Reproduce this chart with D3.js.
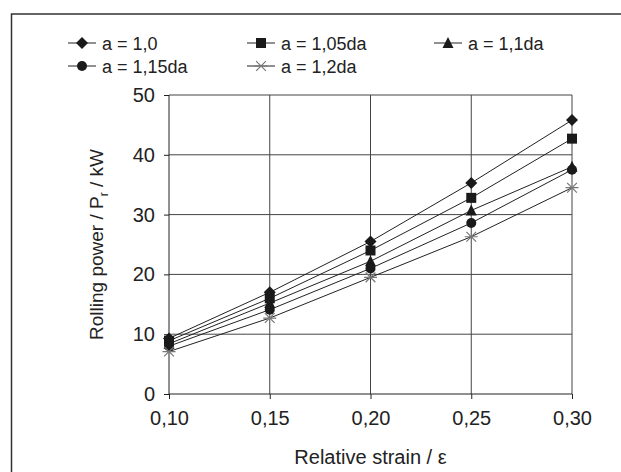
<!DOCTYPE html>
<html><head><meta charset="utf-8">
<script src="https://cdn.jsdelivr.net/npm/d3@7"></script>
<style>body{margin:0;background:#fff;} svg{display:block;font-family:"Liberation Sans",Arial,sans-serif;}</style>
</head><body>
<svg id="c" width="621" height="472"></svg>
<script>
const strain = [0.10, 0.15, 0.20, 0.25, 0.30];
const xTickLabels = ["0,10", "0,15", "0,20", "0,25", "0,30"];
const yTicks = [0, 10, 20, 30, 40, 50];
const seriesNames = ["a = 1,0", "a = 1,05da", "a = 1,1da", "a = 1,15da", "a = 1,2da"];
const a10   = [9.3, 17.0, 25.5, 35.3, 45.8];
const a105  = [8.9, 16.0, 24.0, 32.8, 42.7];
const a110  = [8.4, 15.2, 22.2, 30.7, 38.0];
const a115  = [8.0, 14.1, 21.0, 28.6, 37.5];
const a120  = [7.1, 12.7, 19.5, 26.3, 34.5];
const seriesValues = [a10, a105, a110, a115, a120];
const symbols = ["diamond", "square", "triangle", "circle", "star"];

const svg = d3.select("#c");
const x = d3.scaleLinear().domain([0.10, 0.30]).range([169, 572]);
const y = d3.scaleLinear().domain([0, 50]).range([394, 95]);

// outer frame
svg.append("path").attr("d", "M11.5,472 L11.5,14 L621,14").attr("fill", "none").attr("stroke", "#333").attr("stroke-width", 1.5);

// grid
svg.append("g").selectAll("line").data(yTicks.slice(1)).join("line")
  .attr("x1", x(0.10)).attr("x2", x(0.30)).attr("y1", d => y(d)).attr("y2", d => y(d))
  .attr("stroke", "#444").attr("stroke-width", 1);
svg.append("g").selectAll("line").data(strain.slice(1)).join("line")
  .attr("x1", d => x(d)).attr("x2", d => x(d)).attr("y1", y(0)).attr("y2", y(50))
  .attr("stroke", "#444").attr("stroke-width", 1);

// axes
const xAxis = d3.axisBottom(x).tickValues(strain).tickFormat((d, i) => xTickLabels[i]).tickSize(5).tickPadding(12);
const gx = svg.append("g").attr("transform", `translate(0,${y(0)})`).call(xAxis);
const yAxis = d3.axisLeft(y).tickValues(yTicks).tickSize(5).tickPadding(9);
const gy = svg.append("g").attr("transform", `translate(${x(0.10)},0)`).call(yAxis);
[gx, gy].forEach(g => {
  g.select(".domain").attr("stroke", "#222").attr("d", g === gx ? `M${x(0.10)},0H${x(0.30)}` : `M0,${y(0)}V${y(50)}`);
  g.selectAll(".tick line").attr("stroke", "#222");
  g.selectAll("text").attr("font-size", 20).attr("fill", "#222").attr("font-family", "Liberation Sans, Arial, sans-serif");
});

// symbol drawer
function drawSymbol(g, type, cx, cy) {
  if (type === "diamond") {
    g.append("path").attr("d", `M${cx},${cy-6}L${cx+6},${cy}L${cx},${cy+6}L${cx-6},${cy}Z`).attr("fill", "#1a1a1a");
  } else if (type === "square") {
    g.append("rect").attr("x", cx-5).attr("y", cy-5).attr("width", 10).attr("height", 10).attr("fill", "#1a1a1a");
  } else if (type === "triangle") {
    g.append("path").attr("d", `M${cx},${cy-6}L${cx+5.5},${cy+5}L${cx-5.5},${cy+5}Z`).attr("fill", "#1a1a1a");
  } else if (type === "circle") {
    g.append("circle").attr("cx", cx).attr("cy", cy).attr("r", 5).attr("fill", "#1a1a1a");
  } else {
    const r = 6.5;
    const d = `M${cx-r},${cy}H${cx+r}M${cx-r*0.75},${cy-r*0.75}L${cx+r*0.75},${cy+r*0.75}M${cx-r*0.75},${cy+r*0.75}L${cx+r*0.75},${cy-r*0.75}`;
    g.append("path").attr("d", d).attr("stroke", "#777").attr("stroke-width", 1.2).attr("fill", "none");
  }
}

const line = d3.line().x((d, i) => x(strain[i])).y(d => y(d));
seriesValues.forEach((vals, s) => {
  svg.append("path").attr("d", line(vals)).attr("fill", "none").attr("stroke", "#222").attr("stroke-width", 1);
});
seriesValues.forEach((vals, s) => {
  const g = svg.append("g");
  vals.forEach((v, i) => drawSymbol(g, symbols[s], x(strain[i]), y(v)));
});

// legend
const legPos = [[82, 43], [261, 43], [448, 43], [82, 66], [261, 66]];
seriesNames.forEach((name, s) => {
  const [mx, my] = legPos[s];
  const g = svg.append("g");
  g.append("line").attr("x1", mx-14).attr("x2", mx+14).attr("y1", my).attr("y2", my).attr("stroke", "#222");
  drawSymbol(g, symbols[s], mx, my);
  g.append("text").attr("x", mx+20).attr("y", my+6.5).attr("font-size", 18).attr("fill", "#222").text(name);
});

// axis titles
svg.append("text").attr("x", (x(0.10)+x(0.30))/2).attr("y", 464).attr("text-anchor", "middle")
  .attr("font-size", 20).attr("fill", "#222").text("Relative strain / ε");
const yl = svg.append("text").attr("transform", `translate(103,${y(25)}) rotate(-90)`).attr("text-anchor", "middle")
  .attr("font-size", 19).attr("fill", "#222");
yl.append("tspan").text("Rolling power / P");
yl.append("tspan").attr("font-size", 12).attr("dy", 5).text("r");
yl.append("tspan").attr("dy", -5).text(" / kW");
</script>
</body></html>
